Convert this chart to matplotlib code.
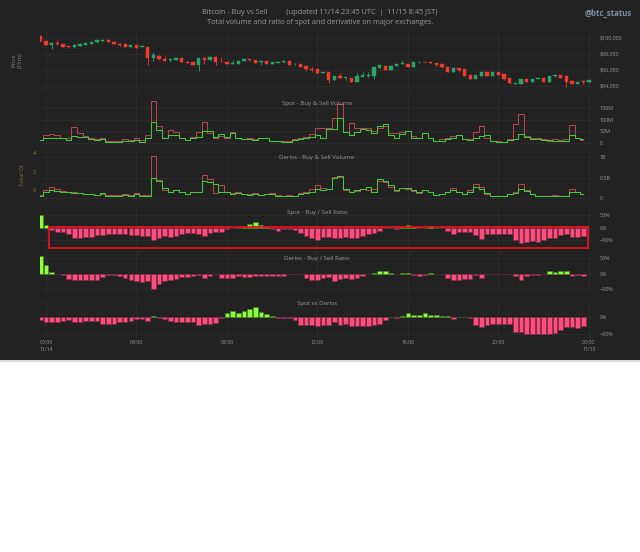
import numpy as np
import pandas as pd
import matplotlib
matplotlib.use("Agg")
import matplotlib.pyplot as plt
import matplotlib.dates as mdates
from matplotlib.patches import Rectangle
from matplotlib.lines import Line2D
from matplotlib.ticker import FixedLocator, FuncFormatter

plt.rcParams['font.family'] = ['Open Sans', 'DejaVu Sans']

# ---------------- data ----------------
# 15-minute candles (first one is the tail of the previous day)
candle_times = pd.date_range('2024-11-13 23:45', periods=98, freq='15min')

price_open = [100300, 99625, 99170, 99420, 99250, 98950, 98850, 99050, 99150, 99250,
              99450, 99650, 99800, 99550, 99300, 99200, 98850, 99100, 98850, 98917,
              97458, 97800, 97350, 97200, 97250, 97500, 97050, 96950, 96667, 97550,
              97250, 97667, 97050, 97000, 96800, 96800, 97100, 97333, 97250, 96950,
              97100, 96750, 96900, 96950, 97167, 96700, 96750, 96450, 96150, 96100,
              95600, 95792, 94750, 95300, 94950, 95042, 94542, 95100, 95200, 95292,
              96300, 96500, 96000, 96500, 96750, 96708, 96417, 96950, 97050, 96950,
              96900, 96700, 96333, 95792, 96292, 96083, 95375, 94917, 95300, 95750,
              95250, 95792, 95458, 94958, 94300, 94250, 94833, 94550, 94900, 95042,
              94542, 95200, 95333, 95208, 94667, 94208, 94600, 94450]
price_close = [99600, 99125, 99420, 99200, 98875, 98850, 99125, 99250, 99330, 99500,
               99700, 99800, 99550, 99250, 99150, 98850, 99100, 98800, 98950, 97458,
               97875, 97333, 97167, 97350, 97500, 97000, 96900, 96667, 97500, 97200,
               97667, 97000, 96980, 96750, 96900, 97150, 97333, 97200, 96917, 97100,
               96708, 96958, 97000, 97167, 96625, 96800, 96417, 96083, 96050, 95583,
               95750, 94750, 95292, 94958, 95100, 94542, 95250, 95350, 95400, 96333,
               96625, 96000, 96542, 96750, 96850, 96417, 96958, 97050, 96950, 96850,
               96583, 96417, 95792, 96292, 96000, 95292, 94917, 95375, 95750, 95250,
               95792, 95375, 94833, 94333, 94400, 94833, 94550, 94900, 95000, 94542,
               95250, 95375, 95000, 94542, 94208, 94542, 94450, 94750]
price_high = [100400, 99650, 99450, 99800, 99280, 99050, 99250, 99400, 99350, 99520,
              99720, 99820, 99820, 99570, 99320, 99220, 99120, 99120, 99000, 98950,
              98250, 97850, 97750, 97500, 97520, 97520, 97070, 96970, 97520, 97570,
              97690, 97690, 97667, 97020, 97300, 97170, 97350, 97350, 97270, 97120,
              97120, 96980, 97020, 97190, 97190, 96820, 96770, 96470, 96420, 96120,
              95770, 95810, 95310, 95650, 95120, 95060, 95600, 95750, 95700, 96350,
              96640, 96520, 96560, 96770, 97250, 96730, 96980, 97070, 97070, 96970,
              96920, 96720, 96350, 96310, 96310, 96100, 95390, 95390, 95770, 95770,
              95810, 95810, 95480, 94980, 94420, 94850, 94850, 94920, 95020, 95150,
              95270, 95390, 95350, 95230, 94690, 94560, 94800, 94770]
price_low = [99550, 99100, 98625, 99150, 98850, 98700, 98750, 99000, 99120, 99230,
             99430, 99630, 99530, 99230, 98950, 98830, 98830, 98780, 98830, 96625,
             97100, 97300, 97150, 96950, 97230, 96980, 96850, 96640, 95875, 96700,
             97230, 96650, 96950, 96730, 96780, 96780, 97080, 97180, 96900, 96600,
             96690, 96730, 96880, 96930, 96600, 96680, 96400, 95830, 95800, 95560,
             95580, 94417, 94730, 94940, 94800, 94520, 94520, 95080, 95180, 94900,
             96280, 95980, 95980, 96480, 96730, 96400, 96400, 96930, 96930, 96830,
             96560, 96280, 95770, 95770, 95750, 95270, 94900, 94900, 95280, 95230,
             95230, 95360, 94810, 94310, 94280, 94230, 94530, 94530, 94880, 94520,
             94520, 95180, 94980, 93917, 94190, 94190, 94300, 94430]

# volume / ratio series share the first 97 timestamps
spot_sell = [12, 34, 39, 34, 23, 23, 70, 41, 31, 23,
             16, 23, 9, 10, 9, 17, 13, 20, 13, 34,
             180, 73, 23, 56, 46, 23, 13, 27, 46, 92,
             41, 23, 31, 20, 46, 20, 16, 20, 16, 23,
             23, 10, 9, 10, 9, 17, 20, 27, 37, 63,
             63, 63, 109, 166, 49, 87, 66, 66, 66, 51,
             66, 74, 41, 41, 46, 51, 31, 20, 41, 23,
             9, 16, 20, 30, 34, 17, 16, 49, 73, 23,
             9, 9, 6, 16, 80, 123, 31, 20, 20, 16,
             9, 16, 13, 16, 78, 20, 13]
spot_buy = [13, 20, 23, 23, 20, 13, 31, 27, 27, 16,
            13, 16, 6, 6, 6, 10, 9, 13, 6, 23,
            92, 56, 20, 34, 34, 23, 13, 20, 27, 51,
            51, 27, 37, 27, 41, 20, 16, 16, 13, 20,
            20, 9, 9, 6, 6, 13, 16, 20, 27, 34,
            23, 59, 59, 106, 46, 34, 46, 60, 56, 41,
            74, 80, 34, 23, 37, 51, 20, 20, 41, 20,
            9, 9, 16, 23, 34, 16, 13, 23, 31, 34,
            9, 6, 6, 13, 17, 37, 27, 17, 16, 13,
            13, 9, 10, 9, 34, 20, 16]
deriv_sell = [0.07, 0.20, 0.26, 0.21, 0.17, 0.15, 0.15, 0.11, 0.10, 0.09,
              0.07, 0.10, 0.07, 0.07, 0.07, 0.09, 0.07, 0.11, 0.07, 0.07,
              1.02, 0.44, 0.20, 0.14, 0.20, 0.14, 0.09, 0.14, 0.14, 0.56,
              0.46, 0.11, 0.32, 0.15, 0.11, 0.14, 0.09, 0.09, 0.11, 0.07,
              0.10, 0.11, 0.07, 0.06, 0.07, 0.06, 0.11, 0.14, 0.21, 0.32,
              0.24, 0.21, 0.52, 0.52, 0.20, 0.15, 0.17, 0.21, 0.20, 0.22,
              0.41, 0.38, 0.28, 0.17, 0.24, 0.21, 0.17, 0.11, 0.20, 0.14,
              0.07, 0.10, 0.15, 0.25, 0.14, 0.10, 0.20, 0.33, 0.28, 0.10,
              0.06, 0.05, 0.06, 0.10, 0.14, 0.33, 0.20, 0.10, 0.06, 0.05,
              0.06, 0.07, 0.06, 0.06, 0.21, 0.14, 0.09]
deriv_buy = [0.06, 0.14, 0.20, 0.18, 0.15, 0.14, 0.12, 0.11, 0.10, 0.09,
             0.07, 0.11, 0.06, 0.06, 0.06, 0.07, 0.06, 0.09, 0.06, 0.06,
             0.48, 0.41, 0.24, 0.14, 0.20, 0.14, 0.09, 0.14, 0.14, 0.41,
             0.38, 0.33, 0.15, 0.15, 0.09, 0.11, 0.09, 0.07, 0.10, 0.07,
             0.09, 0.09, 0.06, 0.06, 0.06, 0.05, 0.10, 0.11, 0.15, 0.21,
             0.20, 0.21, 0.48, 0.54, 0.21, 0.15, 0.20, 0.21, 0.28, 0.15,
             0.46, 0.41, 0.32, 0.20, 0.24, 0.25, 0.20, 0.14, 0.20, 0.14,
             0.07, 0.09, 0.14, 0.20, 0.15, 0.10, 0.15, 0.28, 0.21, 0.11,
             0.06, 0.05, 0.06, 0.09, 0.11, 0.21, 0.17, 0.09, 0.06, 0.06,
             0.06, 0.06, 0.06, 0.06, 0.15, 0.15, 0.09]
spot_ratio = [51, 12, -8, -18, -18, -26, -39, -39, -36, -36,
              -29, -29, -26, -26, -26, -26, -29, -29, -33, -33,
              -47, -39, -33, -36, -33, -26, -22, -22, -26, -33,
              -22, -18, -15, -3, -1, 0, 4, 14, 24, 11,
              1, -6, -11, -6, -6, -8, -22, -33, -39, -47,
              -36, -36, -40, -40, -36, -40, -40, -33, -26, -22,
              -11, -2, 0, -3, 1, 12, 1, -1, 0, 8,
              0, -1, -11, -24, -18, -15, -18, -29, -43, -24,
              -24, -24, -24, -24, -47, -62, -57, -53, -57, -47,
              -39, -39, -29, -24, -36, -36, -33]
deriv_ratio = [57, 27, 5, -2, -5, -16, -22, -22, -22, -22,
               -20, -11, -5, -5, -7, -13, -20, -25, -27, -25,
               -49, -33, -25, -22, -18, -11, -11, -9, -5, -13,
               -7, -1, -13, -13, -13, -9, -11, -11, -7, -7,
               -9, -7, -7, -7, -2, -2, -1, -13, -20, -20,
               -13, -11, -25, -18, -13, -16, -13, -9, -1, 3,
               8, 8, 2, -2, 2, 2, -3, -9, -5, 2,
               -1, -2, -13, -22, -20, -16, -18, -5, -13, -2,
               -2, -2, -2, -2, -7, -20, -7, -5, -5, -2,
               8, 5, 10, 9, -8, -5, -8]
spot_vs_deriv = [-9, -16, -16, -16, -11, -9, -16, -16, -13, -13,
                 -11, -21, -21, -21, -16, -14, -11, -7, -7, -11,
                 4, -4, -6, -13, -14, -16, -14, -14, -22, -20,
                 -20, -18, -3, 11, 18, 12, 18, 24, 29, 14,
                 8, 2, -3, -2, -3, -9, -24, -22, -22, -26,
                 -24, -24, -15, -22, -20, -25, -25, -25, -25, -22,
                 -21, -9, 0, -2, 3, 10, 5, 6, 12, 7,
                 5, 2, 2, -5, 0, 0, -2, -22, -30, -22,
                 -20, -20, -20, -20, -43, -44, -50, -50, -49, -48,
                 -48, -47, -39, -30, -29, -32, -25]

xtick_times = pd.date_range('2024-11-14 00:00', '2024-11-15 00:00', freq='4h')
xtick_labels = ['00:00\n11/14', '04:00', '08:00', '12:00', '16:00', '20:00', '00:00\n11/15']

# ---------------- style ----------------
BG = '#222222'
GRID = '#2d2d2d'
TXT = '#9a9a9a'
UP = '#29a36a'
DOWN = '#f23a30'
LINE_SELL = '#b8434c'
LINE_BUY = '#3ccc3c'
BAR_POS = '#8cff3c'
BAR_NEG = '#ff4d7d'
OLIVE = '#8c7c3a'
TICK_FS = 3.9

W, H = 640, 552
fig = plt.figure(figsize=(W / 100, H / 100), dpi=100, facecolor='white')
fig.patches.append(Rectangle((0, 1 - 360 / H), 1, 360 / H, transform=fig.transFigure,
                             facecolor=BG, edgecolor='none', zorder=-10))
fig.add_artist(Line2D([0, 1], [1 - 360.5 / H] * 2, transform=fig.transFigure,
                      color='#d4d4d4', lw=1.2))

L_PX, R_PX = 40, 593
t_all = mdates.date2num(candle_times)
t_bar = t_all[:97]
day = 1.0 / 24
x0 = mdates.date2num(pd.Timestamp('2024-11-14 00:00'))
XLIM = (x0 - 0.265 * day, x0 + 24.18 * day)
xticks = mdates.date2num(xtick_times)


def panel(top, bottom, ylim, yticks, fmt):
    ax = fig.add_axes([L_PX / W, 1 - bottom / H, (R_PX - L_PX) / W, (bottom - top) / H])
    ax.set_facecolor('none')
    for s in ax.spines.values():
        s.set_visible(False)
    ax.set_xlim(*XLIM)
    ax.set_ylim(*ylim)
    ax.xaxis.set_major_locator(FixedLocator(xticks))
    ax.yaxis.set_major_locator(FixedLocator(yticks))
    ax.yaxis.set_major_formatter(FuncFormatter(fmt))
    ax.yaxis.tick_right()
    ax.tick_params(axis='y', length=0, pad=5, labelsize=TICK_FS, labelcolor=TXT)
    ax.tick_params(axis='x', length=0, labelbottom=False)
    ax.grid(True, color=GRID, lw=0.6)
    ax.set_axisbelow(True)
    return ax


def ptitle(text, y):
    fig.text(317 / W, 1 - y / H, text, ha='center', va='center', fontsize=4.4, color=TXT)


def pct(v, _=None):
    return f"{v:.0f}%".replace('-', '\u2212')


# price candles
ax_p = panel(30, 92, (93250, 101000), [94000, 96000, 98000, 100000],
             lambda v, _: f"${v:,.0f}")
o = np.array(price_open)
c = np.array(price_close)
col = np.where(c >= o, UP, DOWN)
ax_p.vlines(t_all, price_low, price_high, colors=col, lw=0.6, zorder=2)
ax_p.bar(t_all, np.abs(c - o), bottom=np.minimum(o, c), width=0.146 * day,
         color=col, edgecolor=col, linewidth=0.3, zorder=3)

# spot volume
ax_sv = panel(97, 147, (-17, 197), [0, 50, 100, 150],
              lambda v, _: '0' if v == 0 else f"{v:.0f}M")
ax_sv.plot(t_bar, spot_sell, drawstyle='steps-mid', color=LINE_SELL, lw=0.75)
ax_sv.plot(t_bar, spot_buy, drawstyle='steps-mid', color=LINE_BUY, lw=0.75)
ptitle('Spot - Buy & Sell Volume', 103)

# derivatives volume with open-interest axis on the left
ax_oi = fig.add_axes([L_PX / W, 1 - 202 / H, (R_PX - L_PX) / W, 50 / H])
ax_oi.set_facecolor('none')
for s in ax_oi.spines.values():
    s.set_visible(False)
ax_oi.set_xlim(*XLIM)
ax_oi.set_ylim(-1.297, 4.108)
ax_oi.xaxis.set_visible(False)
ax_oi.yaxis.set_major_locator(FixedLocator([0, 2, 4]))
ax_oi.tick_params(axis='y', length=0, pad=3, labelsize=TICK_FS, labelcolor=OLIVE)

ax_dv = panel(152, 202, (-0.0976, 1.122), [0, 0.5, 1],
              lambda v, _: '0' if v == 0 else f"{v:g}B")
ax_dv.plot(t_bar, deriv_sell, drawstyle='steps-mid', color=LINE_SELL, lw=0.75)
ax_dv.plot(t_bar, deriv_buy, drawstyle='steps-mid', color=LINE_BUY, lw=0.75)
ptitle('Derivs - Buy & Sell Volume', 158)


def ratio_bars(ax, vals):
    v = np.array(vals, dtype=float)
    fc = np.where(v >= 0, BAR_POS, BAR_NEG)
    ec = np.where(v >= 0, '#447a26', '#80284a')
    ax.bar(t_bar, v, width=0.205 * day, color=fc, edgecolor=ec, linewidth=0.4, zorder=3)


ax_sr = panel(207, 249, (-84, 82), [-50, 0, 50], pct)
ratio_bars(ax_sr, spot_ratio)
ptitle('Spot - Buy / Sell Ratio', 212.5)
hl0 = x0 + 0.12 * day
hl1 = x0 + 23.97 * day
ax_sr.add_patch(Rectangle((hl0, -81), hl1 - hl0, 83, fill=False, edgecolor='#e5121c',
                          lw=1.3, zorder=5, clip_on=False))

ax_dr = panel(252, 294, (-66, 70), [-50, 0, 50], pct)
ratio_bars(ax_dr, deriv_ratio)
ptitle('Derivs - Buy / Sell Ratio', 258)

ax_sd = panel(300, 338, (-61, 49), [-50, 0], pct)
ratio_bars(ax_sd, spot_vs_deriv)
ptitle('Spot vs Derivs', 303.5)
ax_sd.tick_params(axis='x', labelbottom=True, labelsize=3.7, labelcolor=TXT, pad=1.5)
ax_sd.set_xticklabels(xtick_labels)
for t in ax_sd.get_xticklabels():
    t.set_linespacing(1.5)

# headings and side labels
fig.text(320 / W, 1 - 13 / H,
         'Bitcoin - Buy vs Sell          (updated 11/14 23:45 UTC  |  11/15 8:45 JST)',
         ha='center', va='center', fontsize=5.3, color=TXT)
fig.text(320 / W, 1 - 22 / H, 'Total volume and ratio of spot and derivative on major exchanges.',
         ha='center', va='center', fontsize=5.3, color=TXT)
fig.text(632 / W, 1 - 13 / H, '@btc_status', ha='right', va='center', fontsize=5.7,
         fontweight='bold', color='#7f8ea3')
fig.text(17 / W, 1 - 60 / H, 'Price\n(15m)', ha='center', va='center', rotation=90,
         fontsize=4.2, color='#8a8a8a', multialignment='center', linespacing=1.3)
fig.text(23 / W, 1 - 175 / H, 'Total OI', ha='center', va='center', rotation=90,
         fontsize=4.2, color=OLIVE)

fig.savefig('out.png', dpi=100, facecolor='white')
